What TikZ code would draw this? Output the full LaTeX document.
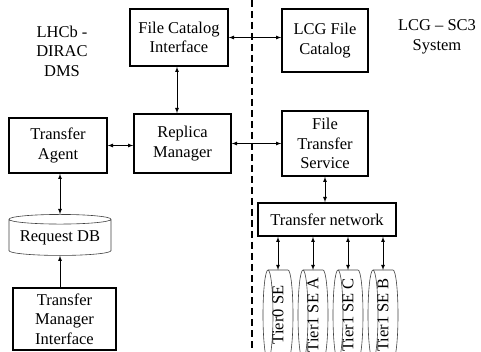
\documentclass[tikz,border=0pt]{standalone}
\usepackage{fontspec}
\setmainfont{Liberation Serif}
\usepackage{tikz}
\usetikzlibrary{shapes,positioning}

\begin{document}
\begin{tikzpicture}[x=1pt,y=-1pt,font=\fontsize{16.5}{19.5}\selectfont]
    %styles
    \tikzstyle{block}=[rectangle,draw,line width=1.6pt,align=center,inner sep=0pt]
    \tikzstyle{db}=[cylinder,draw=black!75,line width=0.6pt,shape border rotate=90,aspect=0.12,inner sep=0pt,minimum width=102pt,minimum height=41pt]
    \tikzstyle{seline}=[draw=black!75,line width=0.6pt]
    \tikzstyle{commu}=[<->,>=latex,line width=0.8pt]
    \path[use as bounding box] (0,0) rectangle (481,352);
    \clip (0,0) rectangle (481,352);
    %labels
    \node[align=center] (dms) at (62,51) {LHCb -\\DIRAC\\DMS};
    \node[align=center] (sc3) at (437,37) {LCG -- SC3\\System};
    %divider
    \coordinate (divtop) at (252,0);
    \coordinate (divbot) at (252,352);
    \draw[line width=1.5pt,dash pattern=on 7pt off 4pt] (divtop)--(divbot);
    %nodes
    \node[block,minimum width=98pt,minimum height=57pt] (fci) at (179,37.5) {File Catalog\\Interface};
    \node[block,minimum width=86pt,minimum height=63pt] (lfc) at (325,40.5) {LCG File\\Catalog};
    \node[block,minimum width=97pt,minimum height=59pt] (rm) at (182.5,143.5) {Replica\\Manager};
    \node[block,minimum width=98pt,minimum height=55pt] (ta) at (58,145.5) {Transfer\\Agent};
    \node[block,minimum width=86pt,minimum height=65pt] (fts) at (325,143.5) {File\\Transfer\\Service};
    \node[block,minimum width=138pt,minimum height=33pt] (tn) at (327,219.5) {Transfer network};
    \node[db] (reqdb) at (60,237.5) {Request DB};
    \node[block,minimum width=103pt,minimum height=62pt] (tmi) at (64.5,319) {Transfer\\Manager\\Interface};
    %storage elements
    \foreach \name/\xx/\txt in {se0/278/Tier0 SE,sea/313/Tier1 SE A,sec/348/Tier1 SE C,seb/383/Tier1 SE B}{
        \draw[seline] (\xx-10,315) ellipse (5 and 45);
        \draw[seline] (\xx-10,270) -- (\xx+10,270)
            arc[start angle=-90,end angle=90,x radius=5,y radius=45] -- (\xx-10,360);
        \node[rotate=90] (\name) at (\xx,315) {\txt};
        \coordinate (\name top) at (\xx,270);
    }
    %arrows
    \draw[commu] (fci)--(lfc.west |- fci);
    \draw[commu] (fci.south -| 177,0)--(rm.north -| 177,0);
    \draw[commu] (ta)--(rm.west |- ta);
    \draw[commu] (rm.east |- fts)--(fts);
    \draw[commu] (ta.south -| 60,0)--(reqdb.top);
    \draw[->,>=latex,line width=0.8pt] (tmi.north -| 60,0)--(reqdb.bottom);
    \draw[commu] (fts)--(tn.north -| fts);
    \foreach \name in {se0,sea,sec,seb}
        \draw[commu] (tn.south -| \name top)--(\name top);
\end{tikzpicture}
\end{document}
